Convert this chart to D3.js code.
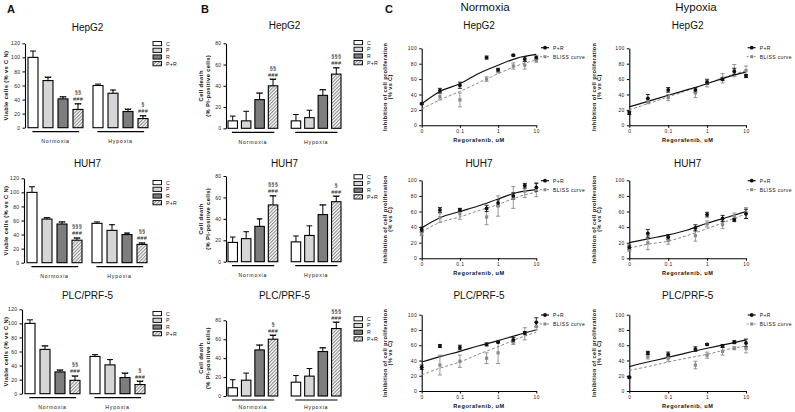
<!DOCTYPE html>
<html><head><meta charset="utf-8">
<script src="https://cdn.jsdelivr.net/npm/d3@7"></script>
<style>body{margin:0;background:#fff} svg{display:block;font-family:"Liberation Sans",Arial,sans-serif}</style>
</head><body><svg id="c" width="795" height="412"></svg>
<script>
// ---------- DATA ----------
const groups = ["Normoxia", "Hypoxia"];
const treatments = ["C", "P", "R", "P+R"];
const cellLines = ["HepG2", "HUH7", "PLC/PRF-5"];

// Panel A: viable cells (% vs C N)  [normoxia, hypoxia] x [C, P, R, P+R]
const viableHepG2 = [[100, 67, 41, 26], [60, 49, 23, 13]];
const viableHepG2Err = [[9, 4.5, 3, 8], [2, 4.5, 3, 4]];
const viableHepG2Sig = [["", "***", "***", "***|###|§§"], ["", "*", "***", "***|###|§"]];
const viableHUH7 = [[100, 62, 55, 32], [56, 46, 40, 26]];
const viableHUH7Err = [[8, 2, 3, 3], [2, 8, 2, 2]];
const viableHUH7Sig = [["", "***", "***", "***|###|§§§"], ["", "*", "**", "***|###|§§"]];
const viablePLC = [[100, 63, 31, 19], [53, 41, 23, 13]];
const viablePLCErr = [[5, 5, 2.5, 6], [2.5, 7.5, 6, 4.5]];
const viablePLCSig = [["", "***", "***", "***|###|§§"], ["", "*", "***", "***|###|§"]];
const viableTicks = [0, 20, 40, 60, 80, 100, 120];

// Panel B: cell death (% PI-positive cells)
const deathHepG2 = [[7, 7, 27, 40], [7, 10, 31, 51]];
const deathHepG2Err = [[4.5, 9, 6, 6], [6, 7, 5.5, 6]];
const deathHepG2Sig = [["", "", "***", "***|###|§§"], ["", "", "***", "***|###|§§§"]];
const deathHUH7 = [[18, 21.5, 33, 53], [18.5, 24.5, 44, 56]];
const deathHUH7Err = [[5, 6.5, 7, 8.5], [5.5, 9, 9, 5]];
const deathHUH7Sig = [["", "", "**", "***|###|§§§"], ["", "", "***", "***|###|§"]];
const deathPLC = [[8.7, 16.7, 48.7, 60], [14.6, 21, 47, 71.3]];
const deathPLCErr = [[8.5, 7.5, 5, 4], [7, 8, 4, 6.5]];
const deathPLCSig = [["", "", "***", "***|###|§"], ["", "", "***", "***|###|§§§"]];
const deathTicks = [0, 20, 40, 60, 80];

// Panel C: inhibition of cell proliferation (% vs C) vs regorafenib (uM)
const doses = [0, 0.03, 0.1, 0.5, 1, 2.5, 5, 10];
const fitDoses = [0, 0.03, 0.1, 0.3, 1, 3, 10];
const doseTicks = [0, 0.1, 1, 10];
const doseTickLabels = ["0", "0.1", "1", "10"];
const inhibTicks = [0, 20, 40, 60, 80, 100];

const prNormHepG2 = [28, 45, 52, 88, 72, 91, 86, 88];
const prNormHepG2Err = [1, 3, 4, 2, 2, 1, 3, 2];
const blissNormHepG2 = [null, 37, 33, 60, 70, 77, 78, 84];
const blissNormHepG2Err = [0, 4, 9, 3, 2, 4, 5, 2];
const fitPrNormHepG2 = [28, 44, 54, 67, 78, 87, 92];
const fitBlissNormHepG2 = [21, 33, 44, 55, 67, 77, 85];

const prHypHepG2 = [16, 35, 46, 46, 56, 60, 70, 64];
const prHypHepG2Err = [2, 5, 3, 3, 3, 2, 4, 2];
const blissHypHepG2 = [null, 31, 36, 42, 55, 61, 71, 71];
const blissHypHepG2Err = [0, 3, 4, 6, 5, 6, 8, 6];
const fitPrHypHepG2 = [24, 31, 39, 46, 54, 62, 69];
const fitBlissHypHepG2 = [20, 28, 37, 45, 54, 63, 71];

const prNormHUH7 = [37, 62, 62, 64, 71, 80, 93, 91];
const prNormHUH7Err = [3, 3, 2, 4, 4, 4, 3, 5];
const blissNormHUH7 = [31, 52, 57, 53, 67, 78, 86, 88];
const blissNormHUH7Err = [2, 6, 7, 10, 13, 14, 8, 9];
const fitPrNormHUH7 = [39, 52, 60, 67, 76, 84, 88];
const fitBlissNormHUH7 = [34, 46, 53, 61, 69, 78, 85];

const prHypHUH7 = [14, 32, 27, 39, 56, 51, 49, 57];
const prHypHUH7Err = [3, 5, 3, 4, 3, 4, 2, 6];
const blissHypHUH7 = [12, 20, 23, 29, 44, 43, 54, 58];
const blissHypHUH7Err = [3, 9, 5, 7, 4, 5, 4, 7];
const fitPrHypHUH7 = [20, 25, 30, 36, 45, 52, 60];
const fitBlissHypHUH7 = [13, 18, 22, 29, 38, 47, 57];

const prNormPLC = [31, 59, 57, 61, 64, 67, 76, 90];
const prNormPLCErr = [3, 2, 3, 2, 1, 3, 2, 6];
const blissNormPLC = [null, 34, 39, 43, 50, 64, 75, 85];
const blissNormPLCErr = [0, 13, 8, 7, 14, 3, 8, 5];
const fitPrNormPLC = [38, 45, 52, 59, 66, 73, 80];
const fitBlissNormPLC = [21, 30, 38, 48, 58, 68, 77];

const prHypPLC = [18, 50, 48, 55, 61, 59, 64, 63];
const prHypPLCErr = [1, 2, 3, 3, 1, 2, 2, 5];
const blissHypPLC = [null, 45, 43, 34, 47, 52, 56, 56];
const blissHypPLCErr = [0, 3, 4, 5, 4, 5, 2, 6];
const fitPrHypPLC = [32, 38, 44, 50, 56, 61, 67];
const fitBlissHypPLC = [27, 32, 38, 43, 48, 54, 59];

// ---------- DRAWING ----------
const svg = d3.select("#c");
const defs = svg.append("defs");
const pat = defs.append("pattern").attr("id", "hatch").attr("patternUnits", "userSpaceOnUse")
  .attr("width", 2.4).attr("height", 2.4).attr("patternTransform", "rotate(45)");
pat.append("rect").attr("width", 2.4).attr("height", 2.4).attr("fill", "#fff");
pat.append("line").attr("x1", 0.6).attr("y1", 0).attr("x2", 0.6).attr("y2", 2.4)
  .attr("stroke", "#8c8c8c").attr("stroke-width", 1.1);

const fills = {"C": "#ffffff", "P": "#d6d6d6", "R": "#7d7d7d", "P+R": "url(#hatch)"};
const GREY = "#8a8a8a";

function styleAxis(sel) {
  sel.select(".domain").attr("stroke", "#000").attr("stroke-width", 1.1);
  sel.selectAll(".tick line").attr("stroke", "#000").attr("stroke-width", 1);
  sel.selectAll(".tick text").attr("font-size", 5).attr("letter-spacing", 0.4)
    .attr("font-family", "Liberation Sans, Arial, sans-serif").attr("fill", "#222");
}

function text(g, x, y, s, size, opts = {}) {
  const t = g.append("text").attr("x", x).attr("y", y).text(s)
    .attr("font-size", size).attr("fill", "#111")
    .attr("text-anchor", opts.anchor || "middle");
  if (opts.bold) t.attr("font-weight", "bold");
  if (opts.ls) t.attr("letter-spacing", opts.ls);
  if (opts.rot) t.attr("transform", `rotate(-90,${x},${y})`);
  return t;
}

function barPanel(p) {
  const g = svg.append("g");
  const y = d3.scaleLinear().domain([0, p.max]).range([p.y0, p.yTop]);
  const x0 = d3.scaleBand().domain(groups).range([p.bx0, p.bx1]).paddingInner(p.gpad);
  const x1 = d3.scaleBand().domain(treatments).range([0, x0.bandwidth()]).paddingInner(p.ipad);
  const ax = g.append("g").attr("transform", `translate(${p.ax},0)`)
    .call(d3.axisLeft(y).tickValues(p.ticks).tickSize(2.5).tickSizeOuter(0).tickPadding(2));
  styleAxis(ax);

  groups.forEach((gr, gi) => {
    treatments.forEach((tr, ti) => {
      const v = p.values[gi][ti], e = p.err[gi][ti];
      const bx = x0(gr) + x1(tr), bw = x1.bandwidth(), cx = bx + bw / 2;
      const top = y(v + e);
      g.append("line").attr("x1", cx).attr("x2", cx).attr("y1", y(v)).attr("y2", top)
        .attr("stroke", "#000").attr("stroke-width", 1);
      g.append("line").attr("x1", cx - bw * 0.3).attr("x2", cx + bw * 0.3).attr("y1", top).attr("y2", top)
        .attr("stroke", "#000").attr("stroke-width", 1);
      g.append("rect").attr("x", bx).attr("y", y(v)).attr("width", bw).attr("height", p.y0 - y(v))
        .attr("fill", fills[tr]).attr("stroke", "#000").attr("stroke-width", 1.1);
      const s = p.sig[gi][ti];
      if (s) {
        const parts = s.split("|");
        parts.forEach((t, k) => {
          const yy = k === 0 ? top + 3 : (k === 1 ? top - 2.8 : top - 9.8);
          text(g, cx, yy, t, k === 0 ? 6 : 5.6, {ls: 0.2});
        });
      }
    });
    const gx = x0(gr), gw = x0.bandwidth();
    g.append("line").attr("x1", gx + gw * 0.08).attr("x2", gx + gw * 0.93)
      .attr("y1", p.y0 + 4).attr("y2", p.y0 + 4).attr("stroke", "#000").attr("stroke-width", 1.2);
    text(g, gx + gw / 2, p.y0 + (p.glab || 15.5), gr, 5.2, {ls: 0.8});
  });

  text(g, p.titleX, p.titleY, p.title, 10);
  // legend
  treatments.forEach((tr, i) => {
    const ly = p.ly + i * 6.7;
    g.append("rect").attr("x", p.lx).attr("y", ly - 2).attr("width", 8.5).attr("height", 4.2)
      .attr("fill", fills[tr]).attr("stroke", "#000").attr("stroke-width", 0.9);
    text(g, p.lx + 13, ly + 2, tr, 5.2, {anchor: "start", ls: 0.3});
  });
  // y label
  const ym = (p.y0 + p.yTop) / 2;
  p.ylab.forEach((l, i) => text(g, p.ylx[i], ym, l, 5.8, {bold: true, rot: true, ls: 0.35}));
}

function curvePanel(p) {
  const g = svg.append("g");
  const x = d3.scaleLog().domain([0.01, 10]).range([p.xl, p.xr]);
  const xp = d => x(d === 0 ? 0.01 : d);
  const y = d3.scaleLinear().domain([0, 100]).range([p.y0, p.yTop]);
  const ax = g.append("g").attr("transform", `translate(${p.xl},0)`)
    .call(d3.axisLeft(y).tickValues(inhibTicks).tickSize(2.5).tickSizeOuter(0).tickPadding(2));
  styleAxis(ax);
  const bx = g.append("g").attr("transform", `translate(0,${p.y0})`)
    .call(d3.axisBottom(x).tickValues(doseTicks.map(d => d === 0 ? 0.01 : d))
      .tickFormat((d, i) => doseTickLabels[i]).tickSize(2.5).tickSizeOuter(0).tickPadding(2));
  styleAxis(bx);

  const line = d3.line().x((d, i) => xp(fitDoses[i])).y(d => y(d)).curve(d3.curveMonotoneX);
  g.append("path").attr("d", line(p.fitB)).attr("fill", "none").attr("stroke", GREY)
    .attr("stroke-width", 1).attr("stroke-dasharray", "3,2");
  g.append("path").attr("d", line(p.fitP)).attr("fill", "none").attr("stroke", "#111")
    .attr("stroke-width", 1.2);

  function errs(vals, es, col) {
    vals.forEach((v, i) => {
      if (v == null || !es[i]) return;
      const cx = xp(doses[i]);
      const a = y(v - es[i]), b = y(v + es[i]);
      g.append("line").attr("x1", cx).attr("x2", cx).attr("y1", a).attr("y2", b).attr("stroke", col).attr("stroke-width", 0.9);
      g.append("line").attr("x1", cx - 2).attr("x2", cx + 2).attr("y1", a).attr("y2", a).attr("stroke", col).attr("stroke-width", 0.9);
      g.append("line").attr("x1", cx - 2).attr("x2", cx + 2).attr("y1", b).attr("y2", b).attr("stroke", col).attr("stroke-width", 0.9);
    });
  }
  errs(p.bliss, p.blissErr, GREY);
  errs(p.pr, p.prErr, "#111");
  p.bliss.forEach((v, i) => {
    if (v == null) return;
    g.append("rect").attr("x", xp(doses[i]) - 1.6).attr("y", y(v) - 1.6).attr("width", 3.2).attr("height", 3.2).attr("fill", GREY);
  });
  p.pr.forEach((v, i) => {
    g.append("circle").attr("cx", xp(doses[i])).attr("cy", y(v)).attr("r", 1.9).attr("fill", "#111");
  });

  // legend
  const lx = p.lx;
  g.append("line").attr("x1", lx - 4).attr("x2", lx + 4).attr("y1", p.ly).attr("y2", p.ly).attr("stroke", "#111").attr("stroke-width", 1.2);
  g.append("circle").attr("cx", lx).attr("cy", p.ly).attr("r", 1.9).attr("fill", "#111");
  text(g, lx + 8, p.ly + 1.8, "P+R", 5, {anchor: "start", ls: 0.4});
  g.append("line").attr("x1", lx - 5).attr("x2", lx + 5).attr("y1", p.ly + 9).attr("y2", p.ly + 9).attr("stroke", GREY).attr("stroke-width", 1).attr("stroke-dasharray", "2,1.5");
  g.append("rect").attr("x", lx - 1.5).attr("y", p.ly + 7.5).attr("width", 3).attr("height", 3).attr("fill", GREY);
  text(g, lx + 8, p.ly + 10.8, "BLISS curve", 5, {anchor: "start", ls: 0.4});

  text(g, (p.xl + p.xr) / 2, p.titleY, p.title, 10);
  text(g, (p.xl + p.xr) / 2, p.y0 + 16.5, "Regorafenib, uM", 5.6, {bold: true, ls: 0.5});
  const ym = (p.y0 + p.yTop) / 2;
  text(g, p.ylx, ym, "Inhibition of cell proliferation", 5.6, {bold: true, rot: true, ls: 0.35});
  text(g, p.ylx + 5.5, ym, "(% vs C)", 5.6, {bold: true, rot: true, ls: 0.35});
}

// Panel letters & headers
text(svg, 7, 12.5, "A", 11, {bold: true, anchor: "start"});
text(svg, 201, 12.5, "B", 11, {bold: true, anchor: "start"});
text(svg, 385, 12.5, "C", 11, {bold: true, anchor: "start"});
text(svg, 485, 10.5, "Normoxia", 11.5);
text(svg, 696, 10.5, "Hypoxia", 11.5);

// Panel A
const aRows = [
  {values: viableHepG2, err: viableHepG2Err, sig: viableHepG2Sig, y0: 127.7, yTop: 43.3, ax: 25, titleY: 30.5, ly: 43.5},
  {values: viableHUH7, err: viableHUH7Err, sig: viableHUH7Sig, y0: 262.7, yTop: 178.3, ax: 24, titleY: 166.5, ly: 182.5},
  {values: viablePLC, err: viablePLCErr, sig: viablePLCSig, y0: 393.7, yTop: 309.3, ax: 22, titleY: 298.5, ly: 313.5}
];
aRows.forEach((r, i) => barPanel(Object.assign({
  max: 120, ticks: viableTicks, bx0: r.ax + 3, bx1: r.ax + 123, gpad: 0.154, ipad: 1 / 3,
  title: cellLines[i], titleX: 87.5, lx: 153, ylab: ["Viable cells (% vs C N)"], ylx: [7.5]
}, r)));

// Panel B
const bRows = [
  {values: deathHepG2, err: deathHepG2Err, sig: deathHepG2Sig, y0: 128.3, yTop: 43.3, titleY: 28.5, ly: 42.5},
  {values: deathHUH7, err: deathHUH7Err, sig: deathHUH7Sig, y0: 261.7, yTop: 176, titleY: 166.5, ly: 176.7},
  {values: deathPLC, err: deathPLCErr, sig: deathPLCSig, y0: 396, yTop: 320.3, titleY: 298.5, ly: 318.7, glab: 13.2}
];
bRows.forEach((r, i) => barPanel(Object.assign({
  max: 80, ticks: deathTicks, ax: 226, bx0: 228, bx1: 341, gpad: 0.213, ipad: 0.296,
  title: cellLines[i], titleX: 284.5, lx: 354, ylab: ["Cell death", "(% PI-positive cells)"], ylx: [203, 210]
}, r)));

// Panel C
const cRows = [
  {y0: 125.3, yTop: 48.3, titleY: 28.5, ly: 47.7,
   norm: [prNormHepG2, prNormHepG2Err, blissNormHepG2, blissNormHepG2Err, fitPrNormHepG2, fitBlissNormHepG2],
   hyp: [prHypHepG2, prHypHepG2Err, blissHypHepG2, blissHypHepG2Err, fitPrHypHepG2, fitBlissHypHepG2]},
  {y0: 258.3, yTop: 180.3, titleY: 166.5, ly: 180.7,
   norm: [prNormHUH7, prNormHUH7Err, blissNormHUH7, blissNormHUH7Err, fitPrNormHUH7, fitBlissNormHUH7],
   hyp: [prHypHUH7, prHypHUH7Err, blissHypHUH7, blissHypHUH7Err, fitPrHypHUH7, fitBlissHypHUH7]},
  {y0: 391, yTop: 314.7, titleY: 298.5, ly: 315,
   norm: [prNormPLC, prNormPLCErr, blissNormPLC, blissNormPLCErr, fitPrNormPLC, fitBlissNormPLC],
   hyp: [prHypPLC, prHypPLCErr, blissHypPLC, blissHypPLCErr, fitPrHypPLC, fitBlissHypPLC]}
];
cRows.forEach((r, i) => {
  [["norm", 421.7, 536.3, 545, 387], ["hyp", 629.3, 746, 751.7, 596]].forEach(([k, xl, xr, lx, ylx]) => {
    const d = r[k];
    curvePanel({xl, xr, lx, ylx, y0: r.y0, yTop: r.yTop, titleY: r.titleY, ly: r.ly, title: cellLines[i],
      pr: d[0], prErr: d[1], bliss: d[2], blissErr: d[3], fitP: d[4], fitB: d[5]});
  });
});
</script></body></html>
